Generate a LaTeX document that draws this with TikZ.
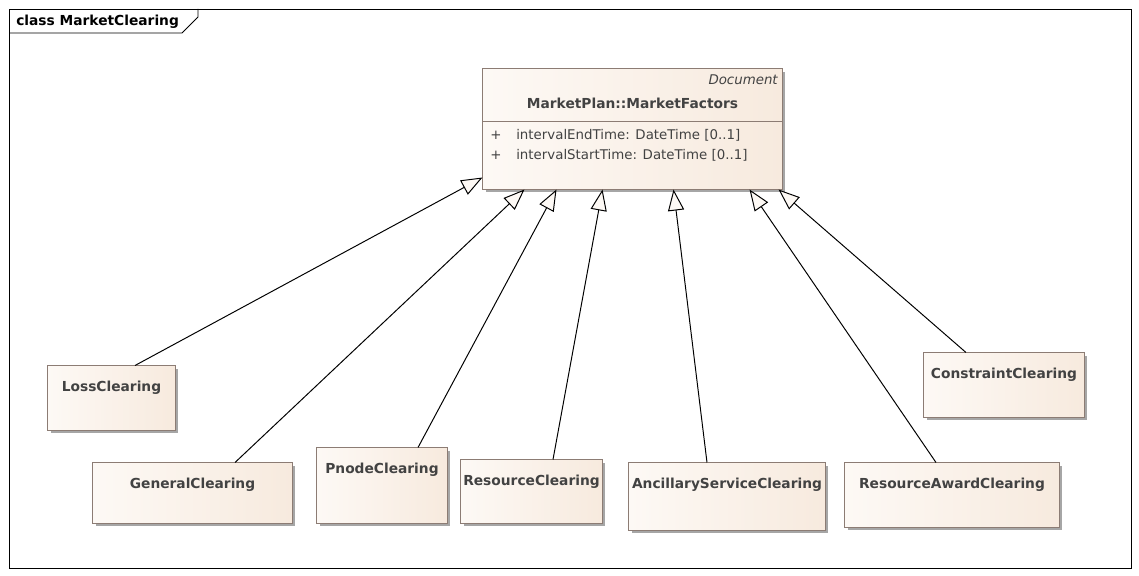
\documentclass[tikz,border=0pt]{standalone}
\usepackage{fontspec}
\setmainfont{DejaVu Sans}
\usetikzlibrary{positioning,arrows.meta,shadows}
\definecolor{boxfill}{RGB}{247,234,222}
\definecolor{boxlight}{RGB}{253,249,245}
\definecolor{boxline}{RGB}{140,124,116}
\definecolor{txtgray}{RGB}{66,66,66}

\tikzset{
    clsbox/.style = {draw = boxline, line width = 0.7pt, left color = boxlight, right color = boxfill,
                     inner sep = 0pt,
                     general shadow = {shadow xshift = 2.2pt, shadow yshift = -2.2pt, fill = black!35}},
    clsname/.style = {font = \fontsize{9.8}{11}\selectfont\bfseries, text = txtgray, inner sep = 0pt, anchor = base},
    attr/.style = {font = \fontsize{9.5}{11}\selectfont, text = txtgray, inner sep = 0pt, anchor = base west},
    genarrow/.style = {line width = 0.7pt, -{Triangle[length = 15pt, width = 11.5pt, fill = boxlight, line width = 0.7pt]}}
}

\begin{document}
\begin{tikzpicture}[x = 0.025cm, y = -0.025cm]
    \useasboundingbox[fill = white] (0,0) rectangle (1139,576);

    % frame
    \draw[line width = 0.6pt] (9,9) rectangle (1131,568);
    \draw[line width = 0.6pt] (9,33) -- (182,33) -- (198,17) -- (198,9);
    \node[font = \fontsize{9.8}{11}\selectfont\bfseries, inner sep = 0pt, anchor = base west] (title) at (16,26) {class MarketClearing};

    % parent class
    \node[clsbox, minimum width = 7.475cm, minimum height = 3cm] (mf) at (632.5,129) {};
    \draw[draw = boxline, line width = 0.7pt] (483,121) -- (782,121);
    \node[font = \fontsize{9.5}{11}\selectfont\itshape, text = txtgray, inner sep = 0pt, anchor = base east] (stereo) at (778,85) {Document};
    \node[clsname] (mfname) at (632.5,109) {MarketPlan::MarketFactors};
    \node[attr] (plusa) at (490,140) {+};
    \node[attr] (attra) at (516,140) {intervalEndTime: DateTime [0..1]};
    \node[attr] (plusb) at (490,160) {+};
    \node[attr] (attrb) at (516,160) {intervalStartTime: DateTime [0..1]};

    % child classes
    \node[clsbox, minimum width = 3.175cm, minimum height = 1.6cm] (loss) at (111.5,398) {};
    \node[clsbox, minimum width = 4.975cm, minimum height = 1.5cm] (general) at (192.5,493) {};
    \node[clsbox, minimum width = 3.25cm, minimum height = 1.875cm] (pnode) at (382,485.5) {};
    \node[clsbox, minimum width = 3.525cm, minimum height = 1.575cm] (resource) at (531.5,491.5) {};
    \node[clsbox, minimum width = 4.9cm, minimum height = 1.675cm] (ancillary) at (727,496.5) {};
    \node[clsbox, minimum width = 5.35cm, minimum height = 1.6cm] (award) at (952,495) {};
    \node[clsbox, minimum width = 4cm, minimum height = 1.6cm] (constraint) at (1004,385) {};

    \node[clsname] (lossname) at ([yshift = -0.65cm]loss.north) {LossClearing};
    \node[clsname] (generalname) at ([yshift = -0.65cm]general.north) {GeneralClearing};
    \node[clsname] (pnodename) at ([yshift = -0.65cm]pnode.north) {PnodeClearing};
    \node[clsname] (resourcename) at ([yshift = -0.65cm]resource.north) {ResourceClearing};
    \node[clsname] (ancillaryname) at ([yshift = -0.65cm]ancillary.north) {AncillaryServiceClearing};
    \node[clsname] (awardname) at ([yshift = -0.65cm]award.north) {ResourceAwardClearing};
    \node[clsname] (constraintname) at ([yshift = -0.65cm]constraint.north) {ConstraintClearing};

    % generalizations
    \draw[genarrow] ([xshift = 0.5875cm]loss.north) -- ([yshift = 0.3cm]mf.south west);
    \draw[genarrow] ([xshift = 1.0625cm]general.north) -- ([xshift = 1.05cm]mf.south west);
    \draw[genarrow] ([xshift = 0.9cm]pnode.north) -- ([xshift = 1.85cm]mf.south west);
    \draw[genarrow] ([xshift = 0.5375cm]resource.north) -- ([xshift = 3cm]mf.south west);
    \draw[genarrow] ([xshift = -0.5cm]ancillary.north) -- ([xshift = 4.775cm]mf.south west);
    \draw[genarrow] ([xshift = -0.4cm]award.north) -- ([xshift = 6.675cm]mf.south west);
    \draw[genarrow] ([xshift = -0.95cm]constraint.north) -- ([xshift = 7.4cm]mf.south west);
\end{tikzpicture}
\end{document}
